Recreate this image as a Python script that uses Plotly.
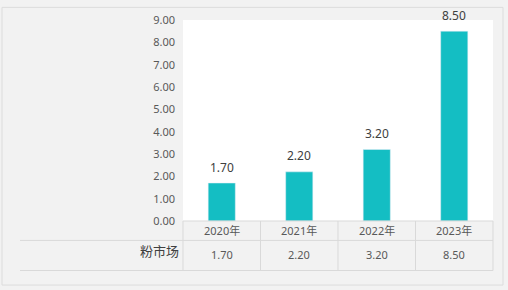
import plotly.graph_objects as go

categories = ["2020年", "2021年", "2022年", "2023年"]
values = [1.70, 2.20, 3.20, 8.50]
series_name = "粉市场"
y_ticks = [0, 1, 2, 3, 4, 5, 6, 7, 8, 9]

W, H = 508, 290
L, R, T, B = 183, 493, 14, 221  # plot area pixels
PW, PH = R - L, B - T

def px(x):
    return (x - L) / PW

def py(y):
    return (B - y) / PH

BAR = "#14BEC3"
GRID = "#d9d9d9"
TXT = "#404040"
TICK = "#595959"
FONT = "Noto Sans, Noto Sans CJK SC, sans-serif"

fig = go.Figure(go.Bar(
    x=list(range(len(categories))), y=values, marker_color=BAR,
    width=0.35, showlegend=False, hoverinfo="skip"))

shapes = []
annotations = []
# outer border
shapes.append(dict(type="rect", xref="paper", yref="paper",
                   x0=px(2), x1=px(503), y0=py(287), y1=py(1),
                   line=dict(color="#dcdcdc", width=1), layer="below"))
n = len(categories)
# table vertical lines
for i in range(n + 1):
    shapes.append(dict(type="line", xref="paper", yref="paper",
                       x0=i / n, x1=i / n, y0=py(221), y1=py(272),
                       line=dict(color=GRID, width=1)))
# table horizontal lines
for yy, x0 in [(241, 20), (272, 20)]:
    shapes.append(dict(type="line", xref="paper", yref="paper",
                       x0=px(x0), x1=1, y0=py(yy), y1=py(yy),
                       line=dict(color=GRID, width=1)))
shapes.append(dict(type="line", xref="paper", yref="paper",
                   x0=0, x1=1, y0=0, y1=0, line=dict(color=GRID, width=1)))

for i, (c, v) in enumerate(zip(categories, values)):
    annotations.append(dict(x=i, y=v, xref="x", yref="y", text=f"{v:.2f}",
                            showarrow=False, yshift=16,
                            xanchor="center", yanchor="middle",
                            font=dict(size=12, color=TXT, family=FONT)))
    annotations.append(dict(x=(i + 0.5) / n, y=py(231), xref="paper", yref="paper",
                            text=c, showarrow=False,
                            xanchor="center", yanchor="middle",
                            font=dict(size=11, color=TICK, family=FONT)))
    annotations.append(dict(x=(i + 0.5) / n, y=py(256), xref="paper", yref="paper",
                            text=f"{v:.2f}", showarrow=False,
                            xanchor="center", yanchor="middle",
                            font=dict(size=11, color=TICK, family=FONT)))
annotations.append(dict(x=px(181), y=py(252), xref="paper", yref="paper",
                        text=series_name, showarrow=False,
                        xanchor="right", yanchor="middle",
                        font=dict(size=13, color=TXT, family=FONT)))

fig.update_layout(
    width=W, height=H,
    margin=dict(l=L, r=W - R, t=T, b=H - B, pad=0),
    paper_bgcolor="#f2f2f2", plot_bgcolor="white",
    bargap=0.65,
    xaxis=dict(range=[-0.5, n - 0.5], showticklabels=False, showgrid=False,
               zeroline=False, fixedrange=True),
    yaxis=dict(range=[0, 9], tickvals=y_ticks,
               ticktext=[f"{t:.2f}" for t in y_ticks], showgrid=False,
               zeroline=False, ticks="", ticklabelstandoff=7,
               tickfont=dict(size=11, color=TICK, family=FONT)),
    shapes=shapes, annotations=annotations,
)

fig.write_html("out.html")
